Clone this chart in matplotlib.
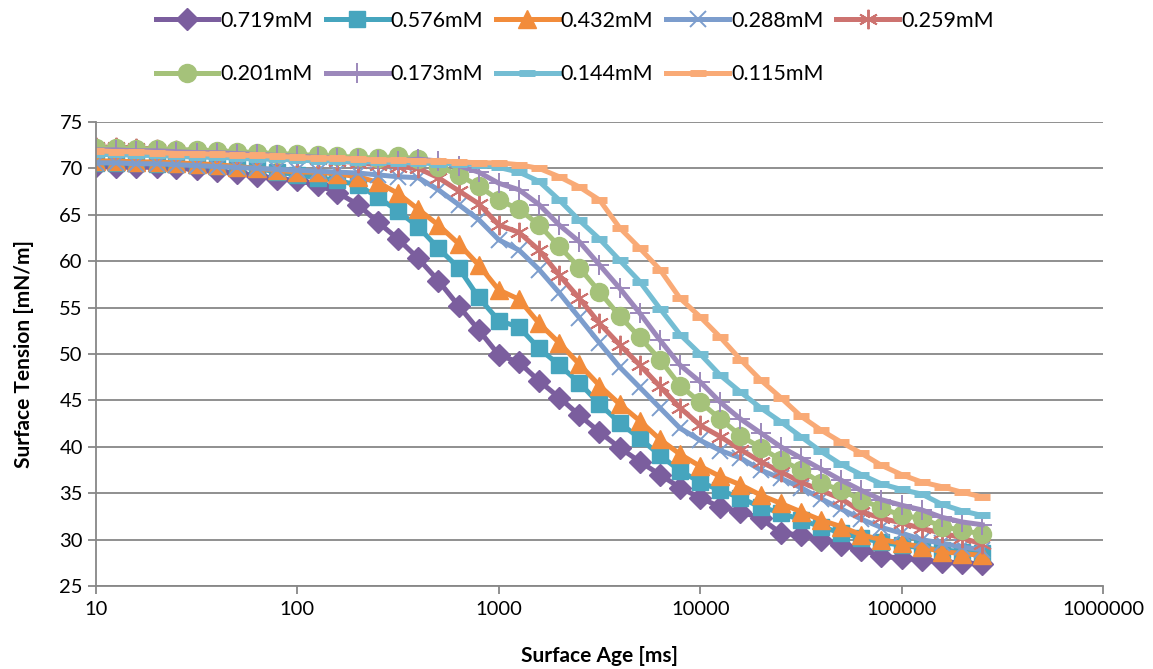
import matplotlib.pyplot as plt
from matplotlib.ticker import FixedLocator, FixedFormatter, NullLocator

plt.rcParams['font.family'] = ['Lato', 'DejaVu Sans']

# surface age [ms]
age = [10, 12.6, 15.8, 20, 25.1, 31.6, 39.8, 50.1, 63.1, 79.4,
       100, 126, 158, 200, 251, 316, 398, 501, 631, 794,
       1000, 1259, 1585, 1995, 2512, 3162, 3981, 5012, 6310, 7943,
       10000, 12589, 15849, 19953, 25119, 31623, 39811, 50119, 63096, 79433,
       100000, 125893, 158489, 199526, 251189]

# surface tension [mN/m] per concentration
st_0719 = [70.3, 70.2, 70.2, 70.1, 70.0, 69.9, 69.7, 69.5, 69.2, 68.9,
           68.7, 68.2, 67.4, 66.1, 64.2, 62.4, 60.3, 57.9, 55.2, 52.6,
           49.9, 49.1, 47.1, 45.3, 43.4, 41.6, 39.9, 38.4, 37.0, 35.6,
           34.5, 33.5, 33.0, 32.3, 30.7, 30.5, 30.0, 29.4, 28.9, 28.2,
           28.0, 27.8, 27.6, 27.5, 27.4]
st_0576 = [70.6, 70.6, 70.6, 70.5, 70.5, 70.4, 70.3, 70.2, 70.0, 69.6,
           69.3, 69.0, 68.7, 68.2, 66.9, 65.4, 63.7, 61.4, 59.3, 56.1,
           53.6, 52.9, 50.6, 48.8, 46.9, 44.6, 42.6, 40.9, 39.1, 37.4,
           36.2, 35.3, 34.5, 33.5, 32.9, 32.1, 31.4, 30.7, 30.2, 29.7,
           29.4, 29.1, 28.9, 28.7, 28.6]
st_0432 = [70.8, 70.8, 70.7, 70.7, 70.6, 70.5, 70.4, 70.2, 70.0, 69.8,
           69.6, 69.6, 69.4, 69.1, 68.5, 67.3, 65.6, 63.9, 61.9, 59.6,
           56.9, 55.9, 53.3, 51.2, 48.9, 46.6, 44.6, 42.8, 40.8, 39.2,
           37.9, 36.8, 35.9, 34.8, 33.9, 33.0, 32.1, 31.4, 30.5, 30.0,
           29.6, 29.2, 28.7, 28.5, 28.3]
st_0288 = [70.6, 70.6, 70.5, 70.5, 70.4, 70.3, 70.2, 70.1, 70.0, 69.9,
           69.8, 69.7, 69.6, 69.5, 69.3, 69.1, 69.0, 67.7, 66.1, 64.5,
           62.3, 61.2, 59.1, 56.6, 53.9, 51.2, 48.6, 46.4, 44.2, 42.0,
           40.7, 39.6, 38.8, 37.5, 36.6, 35.6, 34.4, 33.3, 32.2, 31.3,
           30.7, 30.0, 29.6, 29.2, 28.9]
st_0259 = [72.3, 72.3, 72.2, 72.1, 72.0, 71.9, 71.8, 71.6, 71.5, 71.3,
           71.2, 71.0, 70.8, 70.6, 70.4, 70.2, 70.0, 69.0, 67.6, 66.2,
           63.9, 63.1, 61.2, 58.5, 56.0, 53.3, 51.0, 48.8, 46.5, 44.2,
           42.3, 41.1, 39.7, 38.4, 37.3, 36.2, 35.3, 34.4, 33.0, 32.3,
           31.8, 31.2, 30.7, 30.2, 29.5]
st_0201 = [72.2, 72.2, 72.1, 72.1, 72.0, 72.0, 71.9, 71.8, 71.7, 71.6,
           71.5, 71.4, 71.3, 71.2, 71.1, 71.3, 71.0, 70.2, 69.3, 68.1,
           66.6, 65.6, 63.9, 61.6, 59.3, 56.7, 54.1, 51.8, 49.4, 46.6,
           44.8, 43.0, 41.2, 39.9, 38.6, 37.5, 36.1, 35.3, 34.3, 33.4,
           32.6, 32.3, 31.4, 31.0, 30.6]
st_0173 = [72.0, 72.0, 71.9, 71.9, 71.8, 71.7, 71.7, 71.6, 71.5, 71.4,
           71.3, 71.2, 71.1, 71.0, 70.9, 70.8, 71.0, 70.8, 70.3, 69.6,
           68.4, 67.7, 66.1, 63.9, 62.1, 59.6, 57.1, 54.4, 51.5, 48.8,
           47.0, 44.8, 43.0, 41.5, 40.0, 38.8, 37.6, 36.4, 35.3, 34.3,
           33.7, 33.2, 32.4, 31.9, 31.6]
st_0144 = [71.5, 71.5, 71.4, 71.4, 71.3, 71.2, 71.2, 71.1, 71.0, 71.0,
           70.9, 70.8, 70.8, 70.7, 70.7, 70.6, 70.6, 70.5, 70.5, 70.4,
           70.1, 69.6, 68.6, 66.6, 64.4, 62.4, 60.1, 57.8, 54.9, 52.1,
           50.0, 47.7, 45.9, 44.2, 42.7, 41.1, 39.5, 38.1, 37.0, 36.0,
           35.4, 34.9, 33.8, 33.1, 32.6]
st_0115 = [71.9, 71.8, 71.8, 71.7, 71.6, 71.6, 71.5, 71.4, 71.4, 71.3,
           71.2, 71.1, 71.1, 71.0, 70.9, 70.9, 70.8, 70.8, 70.7, 70.6,
           70.6, 70.4, 70.0, 69.1, 68.0, 66.6, 63.6, 61.4, 59.1, 56.0,
           54.0, 51.8, 49.4, 47.2, 45.3, 43.3, 41.8, 40.5, 39.3, 38.0,
           37.0, 36.2, 35.7, 35.1, 34.6]

labels = ['0.719mM', '0.576mM', '0.432mM', '0.288mM', '0.259mM',
          '0.201mM', '0.173mM', '0.144mM', '0.115mM']
series = [st_0719, st_0576, st_0432, st_0288, st_0259,
          st_0201, st_0173, st_0144, st_0115]

# Excel-like series styles
styles = [
    dict(color='#7B5E9E', marker='D', ms=11),
    dict(color='#46A5BE', marker='s', ms=12),
    dict(color='#F28C3B', marker='^', ms=13),
    dict(color='#7C9DCD', marker='x', ms=12, mew=1.4),
    dict(color='#CD7370', marker=(6, 2, 0), ms=14, mew=1.4),
    dict(color='#A5C27A', marker='o', ms=13),
    dict(color='#9C88BB', marker='+', ms=14, mew=1.4),
    dict(color='#74BDD3', marker='_', ms=11, mew=5),
    dict(color='#F9AA76', marker='_', ms=11, mew=5),
]

fig = plt.figure(figsize=(11.53, 6.69), dpi=100)
ax = fig.add_axes([96 / 1153, 1 - 586 / 669, (1103 - 96) / 1153, (586 - 122) / 669])

handles = []
for vals, lab, st in zip(series, labels, styles):
    h, = ax.plot(age, vals, lw=3.6, label=lab, **st)
    handles.append(h)

ax.set_xscale('log')
ax.set_xlim(10, 1000000)
ax.set_ylim(25, 75)
ax.xaxis.set_major_locator(FixedLocator([10, 100, 1000, 10000, 100000, 1000000]))
ax.xaxis.set_major_formatter(FixedFormatter(['10', '100', '1000', '10000', '100000', '1000000']))
ax.xaxis.set_minor_locator(NullLocator())
ax.set_yticks(range(25, 80, 5))

ax.grid(axis='y', color='#878787', lw=1.3)
ax.set_axisbelow(True)
for s in ['top', 'right']:
    ax.spines[s].set_visible(False)
for s in ['left', 'bottom']:
    ax.spines[s].set_color('#878787')
    ax.spines[s].set_linewidth(1.3)
ax.tick_params(axis='both', colors='#878787', length=6, width=1.3, labelsize=14.5,
               labelcolor='black')
ax.tick_params(axis='x', pad=5)

ax.set_xlabel('Surface Age [ms]', fontsize=15, fontweight='bold', labelpad=20)
ax.set_ylabel('Surface Tension [mN/m]', fontsize=15, fontweight='bold', labelpad=18)

# row-major legend: 5 in first row, 4 in second
order = [0, 5, 1, 6, 2, 7, 3, 8, 4]
fig.legend([handles[i] for i in order], [labels[i] for i in order],
           loc='upper left', bbox_to_anchor=(156 / 1153, 1 - 11 / 669),
           ncol=5, frameon=False, fontsize=15.5, handlelength=2.9,
           handletextpad=0.1, columnspacing=0.6, labelspacing=1.55,
           borderpad=0, borderaxespad=0)

plt.savefig('out.png', dpi=100)
